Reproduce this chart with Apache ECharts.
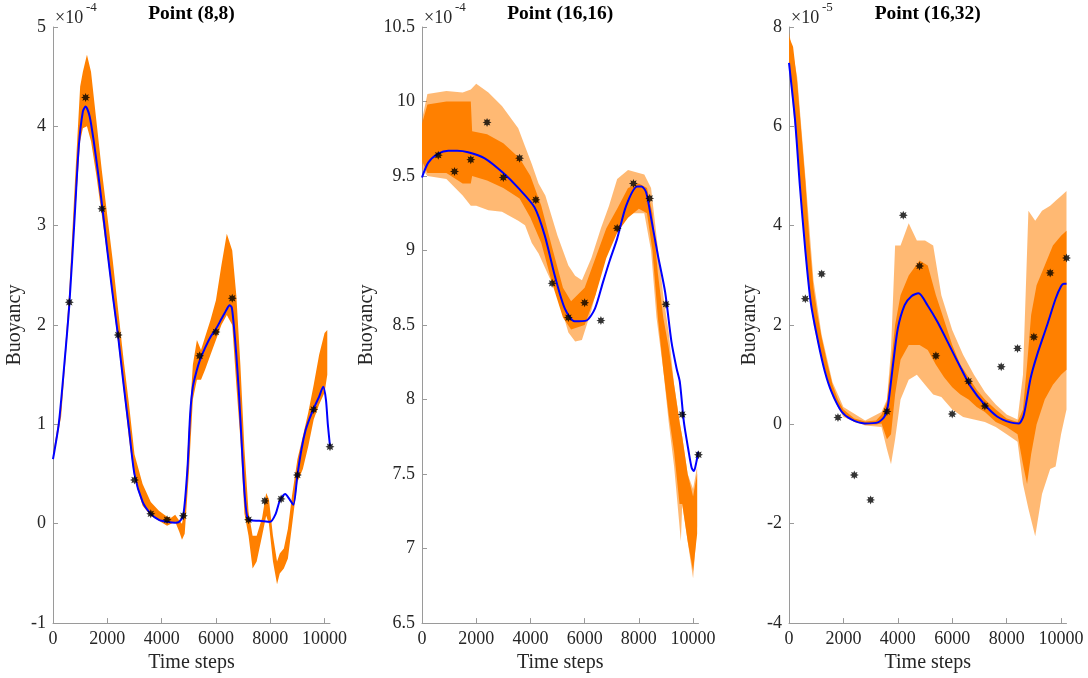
<!DOCTYPE html>
<html>
<head>
<meta charset="utf-8">
<title>Buoyancy ensemble</title>
<script src="https://cdn.jsdelivr.net/npm/echarts@6/dist/echarts.min.js"></script>
<style>
  html, body { margin: 0; padding: 0; background: #fff; }
  #chart { width: 1088px; height: 678px; }
</style>
</head>
<body>
<div id="chart"></div>
<script>
// ---- data (values are x1e-4, x1e-4, x1e-5) ----
const xTicks = [0, 2000, 4000, 6000, 8000, 10000];
const obsTimes = [600, 1200, 1800, 2400, 3000, 3600, 4200, 4800, 5400, 6000, 6600, 7200, 7800, 8400, 9000, 9600, 10200];

// Point (8,8)
const p1Obs = [2.23, 4.29, 3.17, 1.90, 0.44, 0.10, 0.04, 0.08, 1.69, 1.93, 2.27, 0.04, 0.23, 0.25, 0.49, 1.15, 0.775];
const p1MeanT = [0, 210, 400, 600, 800, 950, 1100, 1200, 1350, 1500, 1650, 1800, 2000, 2200, 2400, 2600, 2800, 3000, 3300, 3600, 3900, 4200, 4500, 4650, 4800, 4950, 5050, 5150, 5300, 5400, 5600, 5800, 6000, 6200, 6400, 6500, 6580, 6650, 6750, 6850, 6950, 7050, 7150, 7250, 7600, 8000, 8200, 8350, 8550, 8700, 8850, 9000, 9150, 9300, 9450, 9600, 9800, 9950, 10050, 10120, 10200];
const p1Mean = [0.65, 1.0, 1.55, 2.2, 3.1, 3.8, 4.15, 4.2, 4.1, 3.85, 3.55, 3.22, 2.75, 2.3, 1.88, 1.4, 0.95, 0.5, 0.22, 0.1, 0.04, 0.02, 0.01, 0.02, 0.09, 0.55, 1.1, 1.38, 1.55, 1.64, 1.77, 1.88, 1.96, 2.06, 2.16, 2.2, 2.18, 2.02, 1.7, 1.3, 0.8, 0.32, 0.07, 0.035, 0.03, 0.02, 0.1, 0.23, 0.3, 0.25, 0.19, 0.49, 0.75, 0.94, 1.06, 1.16, 1.28, 1.38, 1.25, 1.0, 0.78];
const p1BandT = [0, 300, 600, 800, 1000, 1100, 1250, 1400, 1600, 1800, 2000, 2200, 2400, 2600, 2800, 3000, 3300, 3600, 3900, 4200, 4350, 4500, 4650, 4750, 4850, 5000, 5150, 5300, 5450, 5600, 5800, 6000, 6200, 6400, 6600, 6750, 6900, 7050, 7200, 7350, 7500, 7700, 7850, 7950, 8100, 8250, 8350, 8500, 8650, 8800, 9000, 9200, 9400, 9600, 9800, 10000, 10100];
const p1BandLo = [0.64, 1.08, 2.15, 3.05, 3.85, 3.98, 4.0, 3.85, 3.5, 3.1, 2.7, 2.25, 1.82, 1.35, 0.85, 0.45, 0.18, 0.08, 0.03, -0.02, 0.0, 0.02, -0.08, -0.16, -0.1, 0.5, 1.25, 1.45, 1.45, 1.55, 1.7, 1.85, 2.0, 2.1, 2.0, 1.4, 0.85, 0.1, -0.12, -0.45, -0.38, -0.12, 0.08, 0.0, -0.38, -0.61, -0.5, -0.45, -0.35, -0.02, 0.42, 0.55, 0.78, 1.05, 1.2, 1.32, 1.5];
const p1BandHi = [0.7, 1.2, 2.35, 3.4, 4.4, 4.55, 4.72, 4.55, 4.05, 3.55, 3.1, 2.65, 2.15, 1.65, 1.2, 0.7, 0.4, 0.22, 0.13, 0.07, 0.06, 0.09, 0.03, 0.0, 0.15, 0.95, 1.6, 1.85, 1.75, 1.88, 2.05, 2.25, 2.6, 2.92, 2.75, 2.3, 1.6, 0.75, 0.12, -0.12, -0.12, 0.06, 0.31, 0.25, -0.12, -0.38, -0.3, -0.25, -0.05, 0.28, 0.65, 0.88, 1.12, 1.4, 1.7, 1.92, 1.95];

// Point (16,16)
const p2Obs = [9.64, 9.53, 9.61, 9.86, 9.49, 9.62, 9.34, 8.78, 8.55, 8.65, 8.53, 9.15, 9.45, 9.35, 8.64, 7.90, 7.63];
const p2MeanT = [0, 230, 600, 970, 1300, 1700, 2300, 3000, 3550, 4150, 4530, 4900, 5270, 5630, 6060, 6380, 6680, 6920, 7200, 7530, 7940, 8100, 8270, 8460, 8700, 8970, 9200, 9390, 9510, 9660, 9820, 9950, 10030, 10120, 10190];
const p2Mean = [9.49, 9.59, 9.65, 9.67, 9.67, 9.66, 9.62, 9.52, 9.42, 9.29, 9.10, 8.83, 8.61, 8.525, 8.53, 8.61, 8.79, 8.93, 9.08, 9.30, 9.43, 9.43, 9.39, 9.21, 8.97, 8.72, 8.39, 8.21, 8.12, 7.85, 7.67, 7.54, 7.52, 7.58, 7.65];
const p2CoreT = [0, 200, 900, 1500, 1800, 1850, 2400, 3000, 3600, 4000, 4400, 4800, 5200, 5500, 6000, 6400, 6800, 7200, 7600, 8000, 8300, 8500, 8700, 8900, 9100, 9300, 9500, 9600, 9800, 10000, 10150];
const p2CoreLo = [9.6, 9.52, 9.52, 9.45, 9.45, 9.5, 9.47, 9.42, 9.35, 9.22, 9.05, 8.78, 8.55, 8.47, 8.5, 8.7, 8.95, 9.12, 9.22, 9.28, 9.25, 9.0, 8.55, 8.2, 7.9, 7.65, 7.3, 7.3, 7.05, 6.85, 7.1];
const p2CoreHi = [9.85, 9.98, 10.0, 10.0, 10.0, 9.8, 9.78, 9.72, 9.62, 9.5, 9.3, 9.02, 8.75, 8.66, 8.75, 8.95, 9.15, 9.28, 9.42, 9.45, 9.42, 9.25, 8.85, 8.55, 8.35, 8.1, 7.85, 7.75, 7.5, 7.35, 7.5];
const p2OuterT = [0, 200, 900, 1500, 1800, 2000, 2450, 2950, 3550, 3800, 4050, 4300, 4550, 5000, 5400, 5650, 5900, 6250, 6600, 6900, 7200, 7600, 8200, 8450, 8650, 8900, 9100, 9300, 9550, 9600, 9800, 10000, 10150];
const p2OuterLo = [9.55, 9.5, 9.48, 9.37, 9.3, 9.3, 9.27, 9.26, 9.2, 9.17, 9.05, 8.98, 8.88, 8.7, 8.45, 8.39, 8.4, 8.6, 8.85, 9.05, 9.18, 9.25, 9.25, 9.0, 8.55, 8.2, 7.85, 7.55, 7.05, 7.3, 7.05, 6.8, 7.15];
const p2OuterHi = [9.88, 10.05, 10.07, 10.06, 10.08, 10.12, 10.06, 9.97, 9.82, 9.7, 9.58, 9.45, 9.37, 9.1, 8.9, 8.83, 8.8, 8.95, 9.15, 9.3, 9.48, 9.54, 9.51, 9.42, 9.1, 8.7, 8.45, 8.1, 7.8, 7.75, 7.5, 7.4, 7.55];

// Point (16,32)
const p3Obs = [2.53, 3.03, 0.14, -1.02, -1.52, 0.26, 4.21, 3.19, 1.38, 0.21, 0.87, 0.37, 1.16, 1.53, 1.76, 3.05, 3.35];
const p3MeanT = [0, 220, 400, 600, 800, 1070, 1320, 1560, 1930, 2290, 2780, 3270, 3510, 3640, 3820, 4000, 4250, 4500, 4760, 5090, 5460, 5950, 6320, 6680, 7170, 7650, 8140, 8450, 8630, 8880, 9120, 9490, 9800, 10000, 10100, 10200];
const p3Mean = [7.28, 6.14, 4.8, 3.5, 2.45, 1.66, 1.06, 0.66, 0.26, 0.10, 0.02, 0.04, 0.16, 0.39, 1.19, 1.93, 2.40, 2.58, 2.64, 2.40, 2.06, 1.53, 1.13, 0.76, 0.41, 0.16, 0.04, 0.02, 0.19, 0.93, 1.40, 2.0, 2.53, 2.78, 2.83, 2.83];
const p3CoreT = [0, 150, 300, 450, 600, 750, 900, 1050, 1200, 1400, 1600, 1800, 2000, 2400, 2800, 3200, 3400, 3600, 3750, 3900, 4100, 4400, 4800, 5100, 5400, 5700, 6000, 6300, 6600, 6900, 7200, 7600, 8000, 8400, 8600, 8750, 8900, 9100, 9400, 9700, 10000, 10200];
const p3CoreLo = [7.25, 6.55, 5.6, 4.55, 3.55, 2.65, 2.1, 1.7, 1.35, 0.95, 0.6, 0.35, 0.2, 0.05, 0.0, 0.0, 0.02, -0.3, -0.2, 0.6, 1.3, 1.6, 1.6, 1.5, 1.2, 0.95, 0.75, 0.6, 0.5, 0.35, 0.25, 0.05, -0.05, -0.2, -0.8, -1.2, -0.6, 0.0, 0.5, 0.8, 1.0, 1.1];
const p3CoreHi = [7.8, 7.6, 6.9, 5.9, 4.9, 3.7, 2.75, 2.2, 1.75, 1.25, 0.8, 0.5, 0.3, 0.12, 0.06, 0.08, 0.2, 0.45, 1.2, 2.0, 2.6, 3.0, 3.3, 3.2, 2.6, 2.1, 1.6, 1.2, 0.95, 0.7, 0.5, 0.3, 0.12, 0.05, 0.3, 1.2, 2.2, 2.8, 3.2, 3.6, 3.8, 3.9];
const p3OuterT = [0, 300, 600, 900, 1200, 1600, 2000, 2800, 3400, 3600, 3750, 3900, 4100, 4400, 4700, 5000, 5300, 5600, 6000, 6400, 6800, 7200, 7600, 8000, 8400, 8600, 8800, 9050, 9300, 9600, 9800, 10000, 10200];
const p3OuterLo = [7.2, 5.5, 3.4, 2.0, 1.3, 0.55, 0.15, -0.02, -0.05, -0.5, -0.8, -0.3, 0.5, 0.9, 1.0, 0.8, 0.6, 0.55, 0.3, 0.15, 0.1, 0.05, -0.05, -0.2, -0.35, -1.2, -1.7, -2.25, -1.4, -0.9, -0.85, -0.2, 0.3];
const p3OuterHi = [7.9, 7.0, 5.0, 2.9, 1.8, 0.85, 0.35, 0.08, 0.25, 0.5, 1.5, 3.6, 3.6, 4.05, 3.7, 3.7, 3.6, 2.6, 1.9, 1.4, 1.0, 0.65, 0.4, 0.2, 0.1, 1.0, 4.3, 4.1, 4.3, 4.4, 4.5, 4.6, 4.7];

// ---- chart ----
const FONT = '"Liberation Serif", "Times New Roman", serif';
const ORANGE = '#ff8000';
const AXIS_GRAY = '#9a9a9a';
const TEXT_DARK = '#262626';

const panels = [
    { title: 'Point (8,8)', exp: '-4', left: 53, width: 277, min: -1, max: 5, interval: 1, nameGap: 28,
      obs: p1Obs, meanT: p1MeanT, mean: p1Mean,
      bands: [[p1BandT, p1BandLo, p1BandHi, 1]] },
    { title: 'Point (16,16)', exp: '-4', left: 422, width: 276.5, min: 6.5, max: 10.5, interval: 0.5, nameGap: 45,
      obs: p2Obs, meanT: p2MeanT, mean: p2Mean,
      bands: [[p2OuterT, p2OuterLo, p2OuterHi, 0.55], [p2CoreT, p2CoreLo, p2CoreHi, 1]] },
    { title: 'Point (16,32)', exp: '-5', left: 789, width: 277.5, min: -4, max: 8, interval: 2, nameGap: 29,
      obs: p3Obs, meanT: p3MeanT, mean: p3Mean,
      bands: [[p3OuterT, p3OuterLo, p3OuterHi, 0.55], [p3CoreT, p3CoreLo, p3CoreHi, 1]] }
];

// MATLAB-like asterisk marker
function starPath() {
    let d = '';
    for (let k = 0; k < 16; k++) {
        const r = k % 2 ? 0.55 : 1;
        const a = k * Math.PI / 8;
        d += (k ? 'L' : 'M') + (r * Math.cos(a)).toFixed(3) + ',' + (r * Math.sin(a)).toFixed(3);
    }
    return 'path://' + d + 'Z';
}

function bandSeries(idx, t, lo, hi, opacity) {
    return {
        type: 'custom',
        xAxisIndex: idx,
        yAxisIndex: idx,
        silent: true,
        z: 1,
        data: t.map((x, i) => [x, lo[i], hi[i]]),
        encode: { x: 0, y: [1, 2] },
        renderItem(params, api) {
            if (params.dataIndex !== 0) return null;
            const pts = [];
            for (let i = 0; i < t.length; i++) pts.push(api.coord([t[i], hi[i]]));
            for (let i = t.length - 1; i >= 0; i--) pts.push(api.coord([t[i], lo[i]]));
            return { type: 'polygon', shape: { points: pts }, style: { fill: ORANGE, opacity: opacity } };
        }
    };
}

const grid = [], xAxis = [], yAxis = [], series = [], graphic = [];
panels.forEach((p, i) => {
    grid.push({ left: p.left, top: 27, width: p.width, height: 599 });
    xAxis.push({
        type: 'value', gridIndex: i, min: 0, max: 10200, interval: 2000,
        name: 'Time steps', nameLocation: 'middle', nameGap: 25,
        nameTextStyle: { fontFamily: FONT, fontSize: 20, color: TEXT_DARK },
        axisLine: { onZero: false, lineStyle: { color: AXIS_GRAY } },
        axisTick: { inside: true, length: 5, lineStyle: { color: AXIS_GRAY }, customValues: xTicks },
        axisLabel: {
            fontFamily: FONT, fontSize: 18, color: TEXT_DARK, margin: 7, customValues: xTicks,
            formatter: v => (xTicks.indexOf(v) >= 0 ? String(v) : '')
        },
        splitLine: { show: false }
    });
    yAxis.push({
        type: 'value', gridIndex: i, min: p.min, max: p.max, interval: p.interval,
        name: 'Buoyancy', nameLocation: 'middle', nameGap: p.nameGap,
        nameTextStyle: { fontFamily: FONT, fontSize: 20, color: TEXT_DARK },
        axisLine: { show: true, onZero: false, lineStyle: { color: AXIS_GRAY } },
        axisTick: { show: true, inside: true, length: 5, lineStyle: { color: AXIS_GRAY } },
        axisLabel: { fontFamily: FONT, fontSize: 18, color: TEXT_DARK, margin: 7 },
        splitLine: { show: false }
    });
    p.bands.forEach(b => series.push(bandSeries(i, b[0], b[1], b[2], b[3])));
    series.push({
        type: 'line', xAxisIndex: i, yAxisIndex: i, z: 3,
        data: p.meanT.map((t, k) => [t, p.mean[k]]),
        showSymbol: false, smooth: 0.25,
        lineStyle: { color: '#0000ff', width: 2 }
    });
    series.push({
        type: 'scatter', xAxisIndex: i, yAxisIndex: i, z: 4,
        data: obsTimes.map((t, k) => [t, p.obs[k]]),
        symbol: starPath(), symbolSize: 9,
        itemStyle: { color: '#000' }
    });
    const cx = p.left + p.width / 2;
    graphic.push({
        type: 'text', x: cx, y: 14,
        style: { text: p.title, align: 'center', verticalAlign: 'middle', fill: '#000',
                 font: 'bold 19.5px ' + FONT }
    });
    graphic.push({
        type: 'text', x: p.left + 2, y: 18,
        style: { text: '\u00d710', align: 'left', verticalAlign: 'middle', fill: TEXT_DARK, font: '18px ' + FONT }
    });
    graphic.push({
        type: 'text', x: p.left + 33, y: 8,
        style: { text: p.exp, align: 'left', verticalAlign: 'middle', fill: TEXT_DARK, font: '13px ' + FONT }
    });
});

const chart = echarts.init(document.getElementById('chart'), null, { renderer: 'canvas' });
chart.setOption({
    animation: false,
    backgroundColor: '#fff',
    grid: grid,
    xAxis: xAxis,
    yAxis: yAxis,
    series: series,
    graphic: graphic
});
</script>
</body>
</html>
